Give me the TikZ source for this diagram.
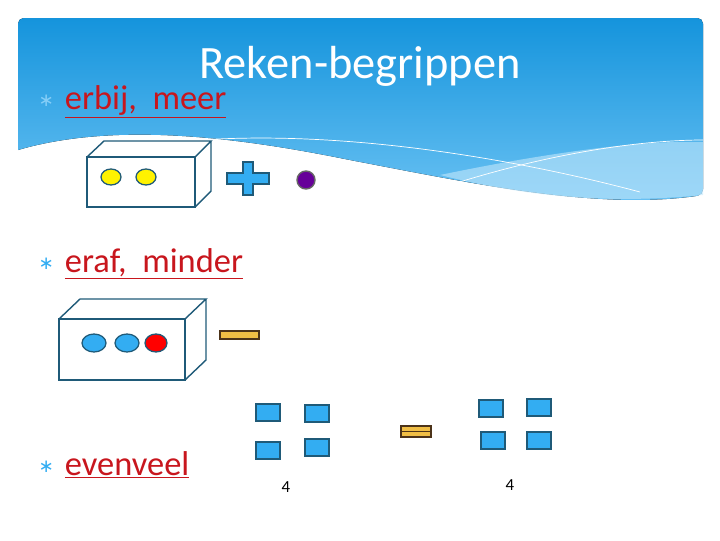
\documentclass[tikz,border=0pt]{standalone}
\usepackage{fontspec}
\setmainfont{Carlito}
\newfontfamily\symfont{DejaVu Sans}
\usetikzlibrary{positioning}
\definecolor{skyblue}{HTML}{33ADF2}
\definecolor{headtop}{HTML}{1594DC}
\definecolor{headbottom}{HTML}{6CC3F4}
\definecolor{boxedge}{HTML}{1F5A78}
\definecolor{termred}{HTML}{C8161D}
\definecolor{barorange}{HTML}{F0BE45}
\tikzset{
  term/.style={anchor=base west, text=termred, font=\fontsize{24.5}{28}\selectfont},
  star/.style={anchor=base east, text=skyblue, font=\symfont\fontsize{13}{15}\selectfont},
  sq/.style={draw=boxedge, fill=skyblue, line width=0.9pt},
  boxline/.style={draw=boxedge, line width=1pt},
  ball/.style={draw=boxedge, line width=0.9pt},
  count/.style={font=\fontsize{12}{14}\selectfont}
}
\begin{document}
\begin{tikzpicture}[x=0.025cm, y=-0.025cm]
  \useasboundingbox (0,0) rectangle (720,540);
  % header band
  \fill[top color=headtop, bottom color=headbottom, rounded corners=4]
    (18,150) -- (18,18) -- (703,18) -- (703,195)
    .. controls (600,210) and (480,185) .. (350,160)
    .. controls (250,140) and (120,120) .. (18,150);
  \fill[white!70!skyblue, opacity=0.6]
    (440,175) .. controls (560,150) and (650,140) .. (703,142) -- (703,195)
    .. controls (600,205) and (520,195) .. (440,175);
  \draw[white, line width=0.5pt] (200,140) .. controls (350,130) and (520,160) .. (640,192);
  \draw[white, line width=0.5pt] (450,185) .. controls (560,150) and (650,140) .. (703,140);
  % title
  \node[text=white, font=\fontsize{33}{38}\selectfont] (title) at (360,66) {Reken-begrippen};

  % erbij, meer
  \node[term] (meer) at (60,109) {\underline{erbij,\ \ meer}};
  \node[star, text=skyblue!60] at (59,106) {∗};
  \draw[boxline, fill=white] (87,157) rectangle (195,207);
  \draw[boxline] (87,157) -- (104,141) -- (211,141) -- (195,157)
    (211,141) -- (211,191) -- (195,207);
  \draw[ball, fill=yellow] (111,177) ellipse (10 and 8);
  \draw[ball, fill=yellow] (146,177) ellipse (10 and 8);
  \draw[sq, line width=1.2pt] (243,162) -- (253,162) -- (253,173) -- (269,173) -- (269,184)
    -- (253,184) -- (253,195) -- (243,195) -- (243,184) -- (227,184) -- (227,173) -- (243,173) -- cycle;
  \draw[draw=black!60, fill=violet!80!blue, line width=1pt] (306,180) circle (9);

  % eraf, minder
  \node[term] (minder) at (60,272) {\underline{eraf,\ \ minder}};
  \node[star] at (59,269) {∗};
  \draw[boxline, fill=white] (59,319) rectangle (185,380);
  \draw[boxline] (59,319) -- (80,299) -- (206,299) -- (185,319)
    (206,299) -- (206,360) -- (185,380);
  \draw[ball, fill=skyblue] (94,343) ellipse (12 and 9);
  \draw[ball, fill=skyblue] (127,343) ellipse (12 and 9);
  \draw[ball, fill=red] (156,343) ellipse (11 and 9);
  \draw[draw=black!60!brown, fill=barorange, line width=1pt] (220,331) rectangle (259,339);

  % evenveel
  \node[term] (evenveel) at (60,475) {\underline{evenveel}};
  \node[star] at (59,472) {∗};
  \foreach \x/\y in {256/404, 305/405, 256/442, 305/439, 479/400, 527/399, 481/432, 527/432}
    \draw[sq] (\x,\y) rectangle ++(24,17);
  \draw[draw=black!60!brown, fill=barorange, line width=1pt] (401,426) rectangle (431,437);
  \draw[black!60!brown, line width=1pt] (401,431.5) -- (431,431.5);
  \node[count] (left) at (286,487) {4};
  \node[count] (right) at (510,485) {4};
\end{tikzpicture}
\end{document}
